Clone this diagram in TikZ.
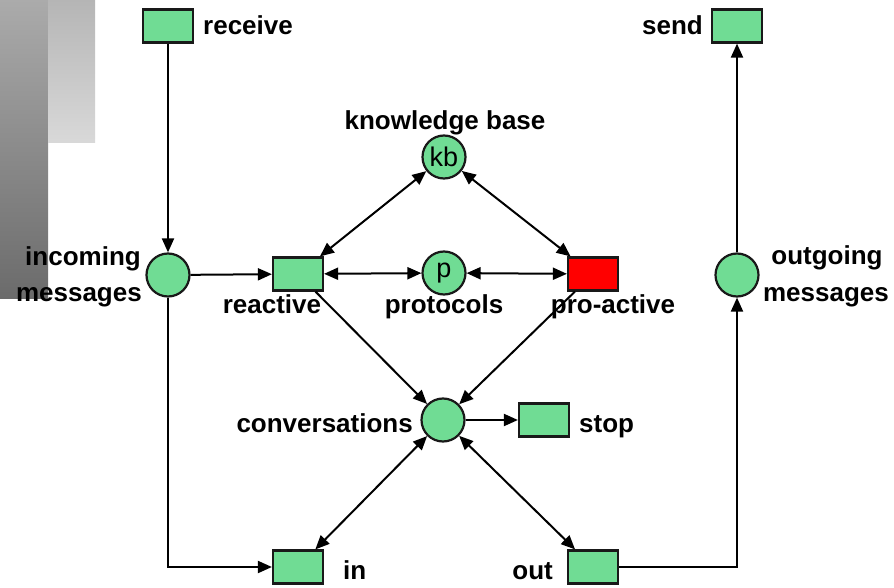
\documentclass[tikz,border=0pt]{standalone}
\usepackage{fontspec}
\setmainfont{Liberation Sans}
\usetikzlibrary{arrows.meta}
\definecolor{pgreen}{RGB}{112,220,148}
\definecolor{pred}{RGB}{255,0,0}
\tikzset{
  place/.style={circle, draw=black!90, line width=2.2pt, fill=pgreen, minimum size=43pt, inner sep=0pt, font=\fontsize{27}{27}\selectfont},
  trans/.style={rectangle, draw=black!90, line width=2.2pt, fill=pgreen, minimum width=50pt, minimum height=33pt, inner sep=0pt},
  lbl/.style={font=\bfseries\fontsize{26}{26}\selectfont, inner sep=0pt},
  arc/.style={line width=2pt, -{Triangle[length=14pt,width=12pt]}},
  barc/.style={line width=2pt, {Triangle[length=14pt,width=12pt]}-{Triangle[length=14pt,width=12pt]}}
}
\begin{document}
\begin{tikzpicture}[x=1pt,y=-1pt]
\useasboundingbox (0,0) rectangle (894,588);
\fill[white] (0,0) rectangle (894,588);
% decorative bars
\shade[top color=black!33, bottom color=black!58] (0,0) rectangle (48,298);
\shade[top color=black!29, bottom color=black!15] (48,0) rectangle (95,143);
% transitions
\node[trans] (receive) at (168,26) {};
\node[trans] (send) at (737,26) {};
\node[trans] (reactive) at (298,274) {};
\node[trans, fill=pred] (proactive) at (593,274) {};
\node[trans] (stop) at (544,420) {};
\node[trans] (in) at (298,567) {};
\node[trans] (out) at (593,567) {};
% places
\node[place] (inc) at (168,275) {};
\node[place] (outg) at (737,275) {};
\node[place] (kb) at (444,157) {kb};
\node[place] (p) at (444,273) {p};
\node[place] (conv) at (443,420) {};
% labels
\node[lbl, anchor=base west] (lreceive) at (203,35) {receive};
\node[lbl, anchor=base east] (lsend) at (703,35) {send};
\node[lbl, anchor=base east] (linc1) at (141,265) {incoming};
\node[lbl, anchor=base east] (linc2) at (142,301) {messages};
\node[lbl, anchor=base] (lout1) at (827,264) {outgoing};
\node[lbl, anchor=base] (lout2) at (826,301) {messages};
\node[lbl, anchor=base] (lkb) at (445,130) {knowledge base};
\node[lbl, anchor=base] (lp) at (444,313) {protocols};
\node[lbl, anchor=base] (lreactive) at (272,313) {reactive};
\node[lbl, anchor=base] (lproactive) at (613,313) {pro-active};
\node[lbl, anchor=base east] (lconv) at (413,432) {conversations};
\node[lbl, anchor=base west] (lstop) at (579,432) {stop};
\node[lbl, anchor=base west] (lin) at (343,579) {in};
\node[lbl, anchor=base east] (lout) at (553,579) {out};
% arcs
\draw[arc] (receive) -- (inc);
\draw[arc] (inc) -- (reactive);
\draw[arc] (inc.south) |- (in.west);
\draw[barc] (reactive) -- (kb);
\draw[barc] (reactive) -- (p);
\draw[barc] (p) -- (proactive);
\draw[barc] (kb) -- (proactive);
\draw[arc] (reactive) -- (conv);
\draw[arc] (proactive) -- (conv);
\draw[arc] (conv) -- (stop);
\draw[barc] (conv) -- (in);
\draw[barc] (conv) -- (out);
\draw[arc] (out.east) -| (outg.south);
\draw[arc] (outg) -- (send);
\end{tikzpicture}
\end{document}
